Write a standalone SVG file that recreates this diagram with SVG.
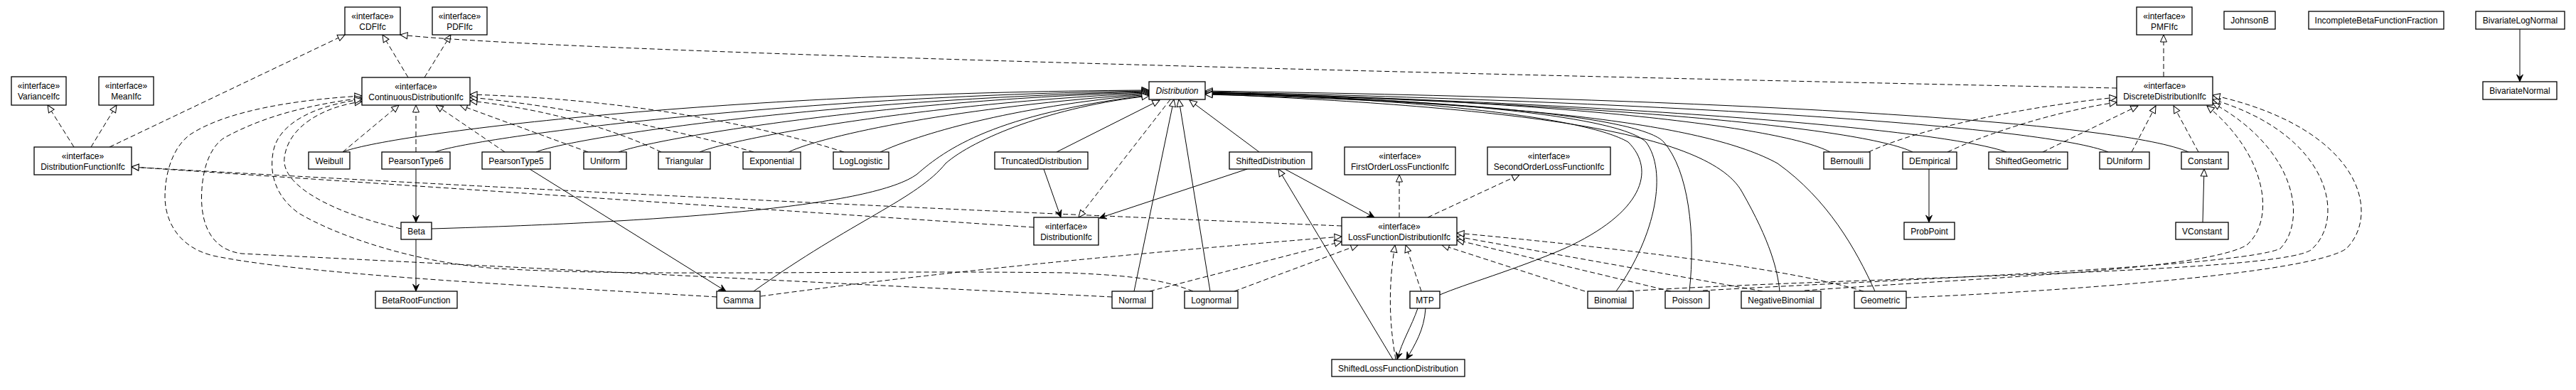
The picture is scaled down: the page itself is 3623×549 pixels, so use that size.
<svg xmlns="http://www.w3.org/2000/svg" width="3623" height="549" viewBox="0 0 3623 549">
<style>
.box{fill:#fff;stroke:#000;stroke-width:1.3}
text{font-family:"Liberation Sans",Arial,sans-serif;font-size:12px;fill:#000;text-anchor:middle}
.it{font-style:italic}
.real{fill:none;stroke:#000;stroke-width:1;stroke-dasharray:7,4;marker-end:url(#tri)}
.gen{fill:none;stroke:#000;stroke-width:1;marker-end:url(#tri)}
.asc{fill:none;stroke:#000;stroke-width:1;marker-end:url(#vee)}
.dep{fill:none;stroke:#000;stroke-width:1;stroke-dasharray:7,4}
</style>
<defs>
<marker id="tri" viewBox="-12 -6 13 12" refX="0" refY="0" markerWidth="13" markerHeight="12" orient="auto" markerUnits="userSpaceOnUse"><path d="M0,0 L-10,-4.5 L-10,4.5 Z" fill="#fff" stroke="#000" stroke-width="1" stroke-dasharray="none"/></marker>
<marker id="vee" viewBox="-12 -6 13 12" refX="0" refY="0" markerWidth="13" markerHeight="12" orient="auto" markerUnits="userSpaceOnUse"><path d="M0,0 L-10,-4.5 L-6.5,0 L-10,4.5 Z" fill="#000" stroke="#000" stroke-width="0.8" stroke-dasharray="none"/></marker>
</defs>
<rect width="3623" height="549" fill="#fff"/>
<g id="connectors">
<!-- interface realizations -->
<path class="real" d="M104 207 L67 148"/>
<path class="real" d="M128 207 L164 148"/>
<path class="real" d="M154 207 L485 49"/>
<path class="real" d="M574 109 L538 49"/>
<path class="real" d="M597 109 L634 49"/>
<path class="real" d="M2977 124 C2200 108, 800 75, 563 49"/>
<path class="real" d="M1454 320 L185 235"/>
<path class="real" d="M1887 318 Q1000 282, 185 235"/>
<path class="real" d="M482 214 L561 148"/>
<path class="real" d="M585 214 L585 148"/>
<path class="real" d="M710 214 L613 148"/>
<path class="real" d="M827 214 L647 148"/>
<path class="real" d="M930 214 C870 185, 780 155, 661 142"/>
<path class="real" d="M1060 214 C960 185, 800 150, 661 137"/>
<path class="real" d="M1187 214 C1080 180, 900 140, 661 133"/>
<path class="real" d="M564 322 C470 300, 395 262, 400 222 C405 178, 455 150, 509 143"/>
<path class="real" d="M1008 418 C700 400, 420 385, 300 360 C250 348, 232 310, 232 277 C232 240, 245 205, 268 189 C320 155, 420 140, 509 135"/>
<path class="real" d="M1564 418 C1200 400, 700 375, 340 357 C300 352, 283 320, 283.5 277 C284 230, 300 200, 321 191 C370 165, 430 148, 509 138"/>
<path class="real" d="M1678 410 C1640 395, 1600 388, 1500 384 C1200 380, 900 390, 700 378 C580 370, 470 330, 420 300 C385 275, 378 240, 385 210 C395 170, 450 147, 509 140"/>
<path class="real" d="M1646 140 L1517 306"/>
<path class="real" d="M1968 306 L1968 246"/>
<path class="real" d="M2008 306 L2137 246"/>
<path class="real" d="M1999 410 L1977 345"/>
<path class="real" d="M1963 506 C1953 450, 1953 400, 1962 345"/>
<path class="real" d="M1070 417 Q1400 372, 1887 333"/>
<path class="real" d="M1617 410 L1887 340"/>
<path class="real" d="M1736 410 L1910 345"/>
<path class="real" d="M2229 410 L2028 345"/>
<path class="real" d="M2350 410 L2049 338"/>
<path class="real" d="M2479 410 L2049 333"/>
<path class="real" d="M2621 410 Q2480 368, 2049 328"/>
<path class="real" d="M2628 214 C2700 180, 2850 150, 2977 137"/>
<path class="real" d="M2739 214 C2800 185, 2900 155, 2977 144"/>
<path class="real" d="M2873 214 L3007 149"/>
<path class="real" d="M2998 214 L3032 149"/>
<path class="real" d="M3092 214 L3057 149"/>
<path class="real" d="M3043 108 L3043 49"/>
<path class="real" d="M2538 409 C2800 390, 3100 380, 3160 345 C3200 310, 3190 220, 3104 149"/>
<path class="real" d="M2395 409 C2700 392, 3150 375, 3207 350 C3245 310, 3230 210, 3112 145"/>
<path class="real" d="M2289 410 C2600 390, 3200 385, 3250 352 C3300 310, 3280 190, 3112 140"/>
<path class="real" d="M2681 419 C2900 410, 3250 385, 3300 350 C3350 300, 3320 180, 3112 134"/>
<!-- generalizations to Distribution -->
<path class="gen" d="M482 214 C540 190, 1000 130, 1616 127"/>
<path class="gen" d="M612 214 C660 195, 1100 135, 1616 128"/>
<path class="gen" d="M754 214 C800 195, 1150 140, 1616 129"/>
<path class="gen" d="M870 214 C920 195, 1250 140, 1616 130"/>
<path class="gen" d="M984 214 C1030 195, 1300 145, 1616 131"/>
<path class="gen" d="M1109 214 C1160 190, 1350 150, 1616 132"/>
<path class="gen" d="M1238 214 C1290 190, 1420 150, 1616 133"/>
<path class="gen" d="M607 322 C950 312, 1230 290, 1290 245 C1330 210, 1400 160, 1616 134"/>
<path class="gen" d="M1060 410 C1200 310, 1290 280, 1330 230 C1370 195, 1480 150, 1616 135"/>
<path class="gen" d="M1486 214 L1631 141"/>
<path class="gen" d="M1595 410 L1651 140"/>
<path class="gen" d="M1702 410 L1658 140"/>
<path class="gen" d="M1771 214 L1673 141"/>
<path class="gen" d="M1959 506 L1798 238"/>
<path class="gen" d="M3098 313 L3100 238"/>
<path class="gen" d="M2574 214 C2500 175, 2150 140, 1695 130"/>
<path class="gen" d="M2690 214 C2620 180, 2250 145, 1695 131"/>
<path class="gen" d="M2822 214 C2740 185, 2350 148, 1695 130"/>
<path class="gen" d="M2965 214 C2880 180, 2400 145, 1695 129"/>
<path class="gen" d="M3078 214 C2990 175, 2500 140, 1695 128"/>
<path class="gen" d="M2273 410 C2330 330, 2345 240, 2315 200 C2280 165, 2050 140, 1695 131"/>
<path class="gen" d="M2376 410 C2385 330, 2375 240, 2340 200 C2310 165, 2050 140, 1695 132"/>
<path class="gen" d="M2025 415 C2060 400, 2130 380, 2200 350 C2310 300, 2330 240, 2290 200 C2230 165, 2000 140, 1695 130"/>
<path class="gen" d="M2503 410 C2500 380, 2490 340, 2450 270 C2400 180, 2100 150, 1695 132"/>
<path class="gen" d="M2637 410 C2610 350, 2570 280, 2500 230 C2400 175, 2150 145, 1695 133"/>
<!-- navigable associations -->
<path class="asc" d="M585 238 L585 313"/>
<path class="asc" d="M585 337 L585 410"/>
<path class="asc" d="M745 238 L1021 410"/>
<path class="asc" d="M1468 238 L1492 306"/>
<path class="asc" d="M1754 238 L1546 307"/>
<path class="asc" d="M1807 238 L1933 306"/>
<path class="asc" d="M1994 434 C1985 460, 1972 480, 1965 506"/>
<path class="asc" d="M2005 434 C2003 465, 1990 485, 1978 506"/>
<path class="asc" d="M2713 238 L2713 313"/>
<path class="asc" d="M3544 41 L3544 115"/>
</g>
<g id="CDFIfc"><rect class="box" x="485" y="10" width="78" height="39"/><text x="524" y="27">«interface»</text><text x="524" y="41.5">CDFIfc</text></g>
<g id="PDFIfc"><rect class="box" x="608" y="10" width="77" height="39"/><text x="646.5" y="27">«interface»</text><text x="646.5" y="41.5">PDFIfc</text></g>
<g id="VarianceIfc"><rect class="box" x="16" y="108" width="77" height="40"/><text x="54.5" y="125">«interface»</text><text x="54.5" y="140">VarianceIfc</text></g>
<g id="MeanIfc"><rect class="box" x="139" y="108" width="77" height="40"/><text x="177.5" y="125">«interface»</text><text x="177.5" y="140">MeanIfc</text></g>
<g id="ContinuousDistributionIfc"><rect class="box" x="509" y="109" width="152" height="39"/><text x="585" y="126">«interface»</text><text x="585" y="140.5">ContinuousDistributionIfc</text></g>
<g id="DistributionFunctionIfc"><rect class="box" x="48" y="207" width="137" height="39"/><text x="116.5" y="224">«interface»</text><text x="116.5" y="238.5">DistributionFunctionIfc</text></g>
<g id="DistributionIfc"><rect class="box" x="1454" y="306" width="91" height="39"/><text x="1499.5" y="323">«interface»</text><text x="1499.5" y="337.5">DistributionIfc</text></g>
<g id="FirstOrderLossFunctionIfc"><rect class="box" x="1891" y="207" width="156" height="39"/><text x="1969" y="224">«interface»</text><text x="1969" y="238.5">FirstOrderLossFunctionIfc</text></g>
<g id="SecondOrderLossFunctionIfc"><rect class="box" x="2092" y="207" width="173" height="39"/><text x="2178.5" y="224">«interface»</text><text x="2178.5" y="238.5">SecondOrderLossFunctionIfc</text></g>
<g id="LossFunctionDistributionIfc"><rect class="box" x="1887" y="306" width="162" height="39"/><text x="1968" y="323">«interface»</text><text x="1968" y="337.5">LossFunctionDistributionIfc</text></g>
<g id="PMFIfc"><rect class="box" x="3005" y="10" width="78" height="39"/><text x="3044" y="27">«interface»</text><text x="3044" y="41.5">PMFIfc</text></g>
<g id="DiscreteDistributionIfc"><rect class="box" x="2977" y="108" width="135" height="40"/><text x="3044.5" y="125">«interface»</text><text x="3044.5" y="140">DiscreteDistributionIfc</text></g>
<g id="Distribution"><rect class="box" x="1616" y="115" width="79" height="25"/><text class="it" x="1655.5" y="132">Distribution</text></g>
<g id="Weibull"><rect class="box" x="434" y="214" width="58" height="24"/><text x="463" y="230.5">Weibull</text></g>
<g id="PearsonType6"><rect class="box" x="537" y="214" width="96" height="24"/><text x="585" y="230.5">PearsonType6</text></g>
<g id="PearsonType5"><rect class="box" x="678" y="214" width="96" height="24"/><text x="726" y="230.5">PearsonType5</text></g>
<g id="Uniform"><rect class="box" x="821" y="214" width="60" height="24"/><text x="851" y="230.5">Uniform</text></g>
<g id="Triangular"><rect class="box" x="926" y="214" width="73" height="24"/><text x="962.5" y="230.5">Triangular</text></g>
<g id="Exponential"><rect class="box" x="1045" y="214" width="81" height="24"/><text x="1085.5" y="230.5">Exponential</text></g>
<g id="LogLogistic"><rect class="box" x="1172" y="214" width="78" height="24"/><text x="1211" y="230.5">LogLogistic</text></g>
<g id="TruncatedDistribution"><rect class="box" x="1399" y="214" width="131" height="24"/><text x="1464.5" y="230.5">TruncatedDistribution</text></g>
<g id="ShiftedDistribution"><rect class="box" x="1729" y="214" width="116" height="24"/><text x="1787" y="230.5">ShiftedDistribution</text></g>
<g id="Bernoulli"><rect class="box" x="2565" y="214" width="65" height="24"/><text x="2597.5" y="230.5">Bernoulli</text></g>
<g id="DEmpirical"><rect class="box" x="2676" y="214" width="76" height="24"/><text x="2714" y="230.5">DEmpirical</text></g>
<g id="ShiftedGeometric"><rect class="box" x="2797" y="214" width="111" height="24"/><text x="2852.5" y="230.5">ShiftedGeometric</text></g>
<g id="DUniform"><rect class="box" x="2953" y="214" width="70" height="24"/><text x="2988" y="230.5">DUniform</text></g>
<g id="Constant"><rect class="box" x="3068" y="214" width="66" height="24"/><text x="3101" y="230.5">Constant</text></g>
<g id="Beta"><rect class="box" x="564" y="313" width="43" height="24"/><text x="585.5" y="329.5">Beta</text></g>
<g id="ProbPoint"><rect class="box" x="2678" y="313" width="71" height="24"/><text x="2713.5" y="329.5">ProbPoint</text></g>
<g id="VConstant"><rect class="box" x="3060" y="313" width="74" height="24"/><text x="3097" y="329.5">VConstant</text></g>
<g id="BetaRootFunction"><rect class="box" x="528" y="410" width="115" height="24"/><text x="585.5" y="426.5">BetaRootFunction</text></g>
<g id="Gamma"><rect class="box" x="1008" y="410" width="61" height="24"/><text x="1038.5" y="426.5">Gamma</text></g>
<g id="Normal"><rect class="box" x="1564" y="410" width="57" height="24"/><text x="1592.5" y="426.5">Normal</text></g>
<g id="Lognormal"><rect class="box" x="1666" y="410" width="75" height="24"/><text x="1703.5" y="426.5">Lognormal</text></g>
<g id="MTP"><rect class="box" x="1983" y="410" width="42" height="24"/><text x="2004" y="426.5">MTP</text></g>
<g id="Binomial"><rect class="box" x="2233" y="410" width="64" height="24"/><text x="2265" y="426.5">Binomial</text></g>
<g id="Poisson"><rect class="box" x="2342" y="410" width="62" height="24"/><text x="2373" y="426.5">Poisson</text></g>
<g id="NegativeBinomial"><rect class="box" x="2449" y="410" width="112" height="24"/><text x="2505" y="426.5">NegativeBinomial</text></g>
<g id="Geometric"><rect class="box" x="2608" y="410" width="73" height="24"/><text x="2644.5" y="426.5">Geometric</text></g>
<g id="ShiftedLossFunctionDistribution"><rect class="box" x="1873" y="506" width="187" height="24"/><text x="1966.5" y="522.5">ShiftedLossFunctionDistribution</text></g>
<g id="JohnsonB"><rect class="box" x="3128" y="16" width="72" height="25"/><text x="3164" y="33">JohnsonB</text></g>
<g id="IncompleteBetaFunctionFraction"><rect class="box" x="3247" y="16" width="190" height="25"/><text x="3342" y="33">IncompleteBetaFunctionFraction</text></g>
<g id="BivariateLogNormal"><rect class="box" x="3482" y="16" width="125" height="25"/><text x="3544.5" y="33">BivariateLogNormal</text></g>
<g id="BivariateNormal"><rect class="box" x="3492" y="115" width="104" height="25"/><text x="3544" y="132">BivariateNormal</text></g>
</svg>
